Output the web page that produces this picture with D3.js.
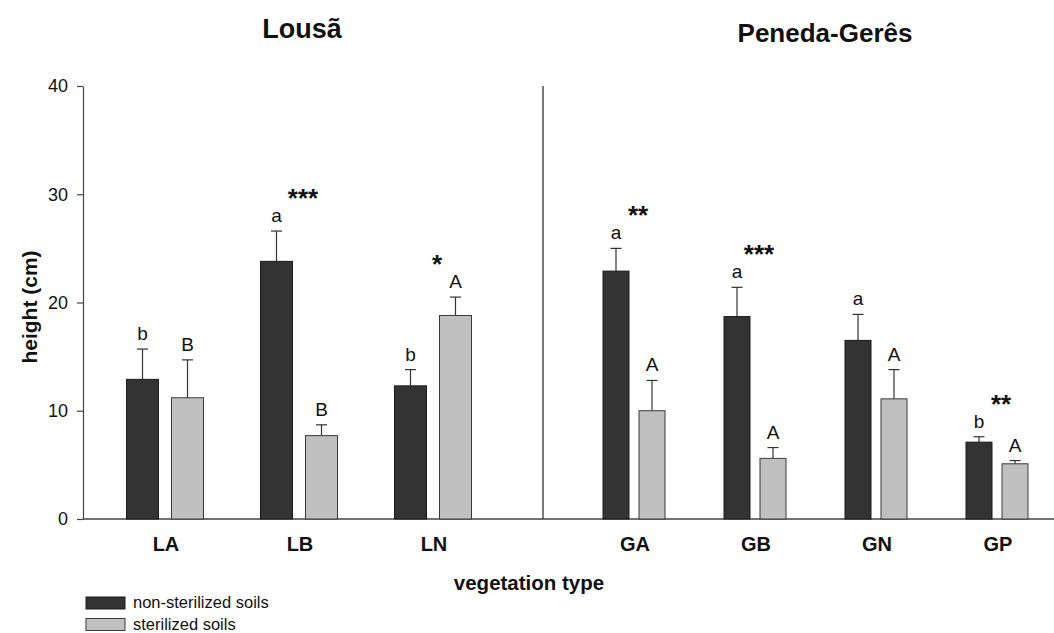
<!DOCTYPE html>
<html>
<head>
<meta charset="utf-8">
<script src="https://cdn.jsdelivr.net/npm/d3@7"></script>
<style>
  html, body { margin: 0; padding: 0; background: #fff; }
  svg { display: block; font-family: "Liberation Sans", Arial, sans-serif; }
</style>
</head>
<body>
<svg id="chart" width="1054" height="633"></svg>
<script>
// ---- data ----
const lousaCats = ["LA", "LB", "LN"];
const penedaCats = ["GA", "GB", "GN", "GP"];
const categories = lousaCats.concat(penedaCats);
const regionTitles = ["Lousã", "Peneda-Gerês"];
const seriesNames = ["non-sterilized soils", "sterilized soils"];
const nonSterilized = [12.9, 23.8, 12.3, 22.9, 18.7, 16.5, 7.1];
const nonSterilizedErr = [2.8, 2.8, 1.5, 2.1, 2.7, 2.4, 0.5];
const sterilized = [11.2, 7.7, 18.8, 10.0, 5.6, 11.1, 5.1];
const sterilizedErr = [3.5, 1.0, 1.7, 2.8, 1.0, 2.7, 0.3];
const nonSterilizedLetters = ["b", "a", "b", "a", "a", "a", "b"];
const sterilizedLetters = ["B", "B", "A", "A", "A", "A", "A"];
const significance = ["", "***", "*", "**", "***", "", "**"];
const yTicks = [0, 10, 20, 30, 40];

// ---- layout ----
const svg = d3.select("#chart");
const axisX = 83, y0px = 519, yTopPx = 86, sepX = 543, rightX = 1054;
const y = d3.scaleLinear().domain([0, 40]).range([y0px, yTopPx]);

const xL = d3.scalePoint().domain(lousaCats).range([165, 433]);
const xP = d3.scalePoint().domain(penedaCats).range([634, 997]);
const subL = d3.scaleBand().domain([0, 1]).range([-38.5, 38.5]).paddingInner(0.289);
const subP = d3.scaleBand().domain([0, 1]).range([-31, 31]).paddingInner(0.278);

const groupX = c => lousaCats.includes(c) ? xL(c) : xP(c);
const subFor = c => lousaCats.includes(c) ? subL : subP;

const colors = ["#333333", "#c0c0c0"];
const strokes = ["#1a1a1a", "#3a3a3a"];

// build records
const records = [];
categories.forEach((c, i) => {
  [[nonSterilized, nonSterilizedErr, nonSterilizedLetters],
   [sterilized, sterilizedErr, sterilizedLetters]].forEach((s, k) => {
    const sub = subFor(c);
    records.push({
      cat: c, k: k, v: s[0][i], e: s[1][i], letter: s[2][i],
      x: groupX(c) + sub(k), w: sub.bandwidth()
    });
  });
});

// titles
svg.append("text").attr("x", 302).attr("y", 38).attr("text-anchor", "middle")
  .attr("font-size", 27).attr("font-weight", "bold").attr("fill", "#111").text(regionTitles[0]);
svg.append("text").attr("x", 825).attr("y", 42).attr("text-anchor", "middle")
  .attr("font-size", 26).attr("font-weight", "bold").attr("fill", "#111").text(regionTitles[1]);

// y axis
const yAxis = d3.axisLeft(y).tickValues(yTicks).tickSize(6).tickPadding(9).tickSizeOuter(0);
const gy = svg.append("g").attr("transform", `translate(${axisX},0)`).call(yAxis);
gy.select(".domain").attr("stroke", "#444").attr("stroke-width", 1.2);
gy.selectAll(".tick line").attr("stroke", "#444").attr("stroke-width", 1.2);
gy.selectAll(".tick text").attr("font-size", 18).attr("fill", "#111")
  .attr("font-family", "Liberation Sans, Arial, sans-serif");

// x baseline
svg.append("line").attr("x1", axisX).attr("x2", rightX).attr("y1", y(0)).attr("y2", y(0))
  .attr("stroke", "#444").attr("stroke-width", 1.5);
// separator
svg.append("line").attr("x1", sepX).attr("x2", sepX).attr("y1", y(40)).attr("y2", y(0))
  .attr("stroke", "#333").attr("stroke-width", 1.3);

// error bars
const eb = svg.append("g");
records.forEach(r => {
  const cx = r.x + r.w / 2;
  eb.append("line").attr("x1", cx).attr("x2", cx).attr("y1", y(r.v)).attr("y2", y(r.v + r.e))
    .attr("stroke", "#333").attr("stroke-width", 1.2);
  eb.append("line").attr("x1", cx - 5.5).attr("x2", cx + 5.5).attr("y1", y(r.v + r.e)).attr("y2", y(r.v + r.e))
    .attr("stroke", "#333").attr("stroke-width", 1.2);
});

// bars
svg.append("g").selectAll("rect").data(records).join("rect")
  .attr("x", d => d.x).attr("width", d => d.w)
  .attr("y", d => y(d.v)).attr("height", d => y(0) - y(d.v))
  .attr("fill", d => colors[d.k]).attr("stroke", d => strokes[d.k]).attr("stroke-width", 1);

// letters
svg.append("g").selectAll("text").data(records).join("text")
  .attr("x", d => d.x + d.w / 2).attr("y", d => y(d.v + d.e) - 9)
  .attr("text-anchor", "middle").attr("font-size", 19).attr("fill", "#111")
  .text(d => d.letter);

// significance stars
categories.forEach((c, i) => {
  if (!significance[i]) return;
  const top = Math.max(nonSterilized[i] + nonSterilizedErr[i], sterilized[i] + sterilizedErr[i]);
  svg.append("text").attr("x", groupX(c) + 4).attr("y", y(top) - 24)
    .attr("text-anchor", "middle").attr("font-size", 26).attr("font-weight", "bold")
    .attr("fill", "#111").text(significance[i]);
});

// category labels
svg.append("g").selectAll("text").data(categories).join("text")
  .attr("x", d => groupX(d) + 1).attr("y", 551).attr("text-anchor", "middle")
  .attr("font-size", 20).attr("font-weight", "bold").attr("fill", "#111").text(d => d);

// axis titles
svg.append("text").attr("x", 529).attr("y", 590).attr("text-anchor", "middle")
  .attr("font-size", 20.5).attr("font-weight", "bold").attr("fill", "#111").text("vegetation type");
svg.append("text").attr("transform", "translate(37,307) rotate(-90)").attr("text-anchor", "middle")
  .attr("font-size", 21).attr("font-weight", "bold").attr("fill", "#111").text("height (cm)");

// legend
const leg = svg.append("g");
seriesNames.forEach((n, k) => {
  const ly = 597 + k * 21.5;
  leg.append("rect").attr("x", 86).attr("y", ly).attr("width", 39).attr("height", 12)
    .attr("fill", colors[k]).attr("stroke", strokes[k]).attr("stroke-width", 1);
  leg.append("text").attr("x", 133).attr("y", ly + 11).attr("font-size", 16.5)
    .attr("fill", "#111").text(n);
});
</script>
</body>
</html>
